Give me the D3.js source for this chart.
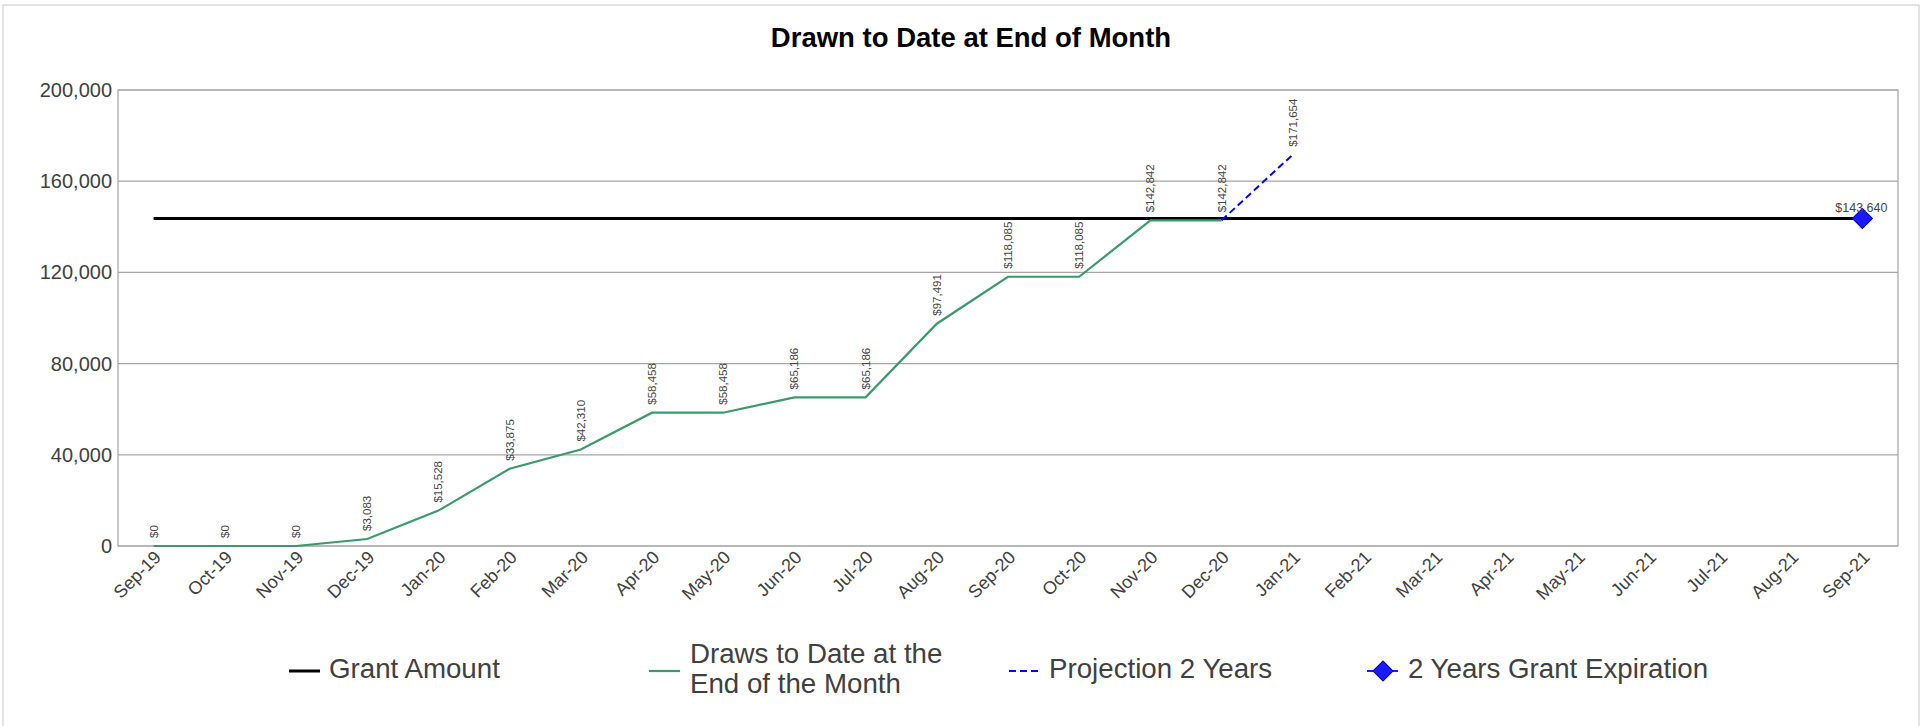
<!DOCTYPE html>
<html>
<head>
<meta charset="utf-8">
<script src="https://cdn.jsdelivr.net/npm/d3@7"></script>
<style>
  body { margin: 0; background: #fff; }
  text { font-family: "Liberation Sans", Arial, sans-serif; }
</style>
</head>
<body>
<div class="canvas"></div>
<script>
const months = ["Sep-19", "Oct-19", "Nov-19", "Dec-19", "Jan-20", "Feb-20", "Mar-20", "Apr-20",
  "May-20", "Jun-20", "Jul-20", "Aug-20", "Sep-20", "Oct-20", "Nov-20", "Dec-20", "Jan-21",
  "Feb-21", "Mar-21", "Apr-21", "May-21", "Jun-21", "Jul-21", "Aug-21", "Sep-21"];
const drawMonths = months.slice(0, 16);
const draws = [0, 0, 0, 3083, 15528, 33875, 42310, 58458, 58458, 65186, 65186, 97491,
  118085, 118085, 142842, 142842];
const projMonths = ["Dec-20", "Jan-21"];
const projection = [142842, 171654];
const grantAmount = 143640;
const expiryMonth = "Sep-21";
const yTicks = [0, 40000, 80000, 120000, 160000, 200000];

const dims = { w: 1931, h: 726 };
const plot = { left: 118, right: 1898, top: 90, bottom: 546 };

const svg = d3.select(".canvas")
  .append("svg")
  .attr("width", dims.w)
  .attr("height", dims.h);

// outer chart frame
svg.append("rect")
  .attr("x", 3).attr("y", 5)
  .attr("width", 1916).attr("height", 740)
  .attr("fill", "none")
  .attr("stroke", "#c8c8c8");

svg.append("text")
  .attr("x", 971).attr("y", 40)
  .attr("text-anchor", "middle")
  .attr("dominant-baseline", "middle")
  .attr("font-size", 27.5)
  .attr("font-weight", "bold")
  .attr("fill", "#000")
  .text("Drawn to Date at End of Month");

const x = d3.scalePoint()
  .domain(months)
  .range([plot.left, plot.right])
  .padding(0.5);

const y = d3.scaleLinear()
  .domain([0, 200000])
  .range([plot.bottom, plot.top]);

// gridlines
svg.append("g")
  .selectAll("line")
  .data(yTicks)
  .join("line")
  .attr("x1", plot.left).attr("x2", plot.right)
  .attr("y1", d => y(d)).attr("y2", d => y(d))
  .attr("stroke", "#a6a6a6")
  .attr("stroke-width", 1.2);

svg.append("rect")
  .attr("x", plot.left).attr("y", plot.top)
  .attr("width", plot.right - plot.left)
  .attr("height", plot.bottom - plot.top)
  .attr("fill", "none")
  .attr("stroke", "#a6a6a6")
  .attr("stroke-width", 1.2);

// y axis labels
const yAxis = d3.axisLeft(y)
  .tickValues(yTicks)
  .tickFormat(d3.format(","))
  .tickSize(0)
  .tickPadding(6);

svg.append("g")
  .attr("transform", `translate(${plot.left},0)`)
  .call(yAxis)
  .call(g => g.select(".domain").remove())
  .selectAll("text")
  .attr("font-family", "'Liberation Sans', Arial, sans-serif")
  .attr("font-size", 20)
  .attr("fill", "#404040");

// x axis labels
svg.append("g")
  .selectAll("text")
  .data(months)
  .join("text")
  .attr("transform", d => `translate(${x(d) + 4},${plot.bottom + 8}) rotate(-45)`)
  .attr("text-anchor", "end")
  .attr("dy", "0.35em")
  .attr("font-size", 18)
  .attr("fill", "#404040")
  .text(d => d);

// grant amount line
svg.append("line")
  .attr("x1", x(months[0])).attr("x2", x(expiryMonth))
  .attr("y1", y(grantAmount)).attr("y2", y(grantAmount))
  .attr("stroke", "#000")
  .attr("stroke-width", 3);

const line = d3.line()
  .x(d => x(d[0]))
  .y(d => y(d[1]));

// draws
svg.append("path")
  .datum(d3.zip(drawMonths, draws))
  .attr("d", line)
  .attr("fill", "none")
  .attr("stroke", "#3a9a6b")
  .attr("stroke-width", 2.2);

// projection
svg.append("path")
  .datum(d3.zip(projMonths, projection))
  .attr("d", line)
  .attr("fill", "none")
  .attr("stroke", "#0000ff")
  .attr("stroke-width", 2)
  .attr("stroke-dasharray", "7,4");

// data labels (rotated)
const fmt = d => "$" + d3.format(",")(d);
const labels = d3.zip(drawMonths, draws).concat([[projMonths[1], projection[1]]]);

svg.append("g")
  .selectAll("text")
  .data(labels)
  .join("text")
  .attr("transform", d => `translate(${x(d[0])},${y(d[1]) - 8}) rotate(-90)`)
  .attr("text-anchor", "start")
  .attr("dy", "0.35em")
  .attr("font-family", "'DejaVu Sans', Verdana, sans-serif")
  .attr("font-size", 11.5)
  .attr("fill", "#444")
  .text(d => fmt(d[1]));

// expiration marker: square turned on its corner
const diamond = d3.symbol().type(d3.symbolSquare).size(200);

svg.append("path")
  .attr("d", diamond())
  .attr("transform", `translate(${x(expiryMonth)},${y(grantAmount)}) rotate(45)`)
  .attr("fill", "#1a1aff")
  .attr("stroke", "#0000d0")
  .attr("stroke-width", 1);

svg.append("text")
  .attr("x", x(expiryMonth) - 1)
  .attr("y", y(grantAmount) - 7)
  .attr("text-anchor", "middle")
  .attr("font-family", "'Liberation Sans Narrow', 'Liberation Sans', Arial, sans-serif")
  .attr("font-size", 12.5)
  .attr("fill", "#444")
  .text(fmt(grantAmount));

// legend
const legendY = 671;
const legendItems = [
  { lx: 289, tx: 329, color: "#000", width: 3, dash: null, lines: ["Grant Amount"] },
  { lx: 649, tx: 690, color: "#3a9a6b", width: 2.2, dash: null, lines: ["Draws to Date at the", "End of the Month"] },
  { lx: 1009, tx: 1049, color: "#0000ff", width: 2, dash: "7,4", lines: ["Projection 2 Years"] },
  { lx: 1367, tx: 1408, color: "#1a1aff", width: 2, dash: null, lines: ["2 Years Grant Expiration"], marker: true }
];

const legend = svg.append("g");

legendItems.forEach(item => {
  legend.append("line")
    .attr("x1", item.lx).attr("x2", item.lx + 31)
    .attr("y1", legendY).attr("y2", legendY)
    .attr("stroke", item.color)
    .attr("stroke-width", item.width)
    .attr("stroke-dasharray", item.dash);

  if (item.marker) {
    legend.append("path")
      .attr("d", diamond())
      .attr("transform", `translate(${item.lx + 16},${legendY}) rotate(45)`)
      .attr("fill", "#1a1aff")
      .attr("stroke", "#0000d0");
  }

  const t = legend.append("text")
    .attr("x", item.tx)
    .attr("y", legendY - (item.lines.length - 1) * 15)
    .attr("font-size", 27.7)
    .attr("fill", "#404040")
    .attr("dominant-baseline", "middle");

  item.lines.forEach((s, i) => {
    t.append("tspan")
      .attr("x", item.tx)
      .attr("dy", i === 0 ? 0 : 30)
      .text(s);
  });
});
</script>
</body>
</html>
